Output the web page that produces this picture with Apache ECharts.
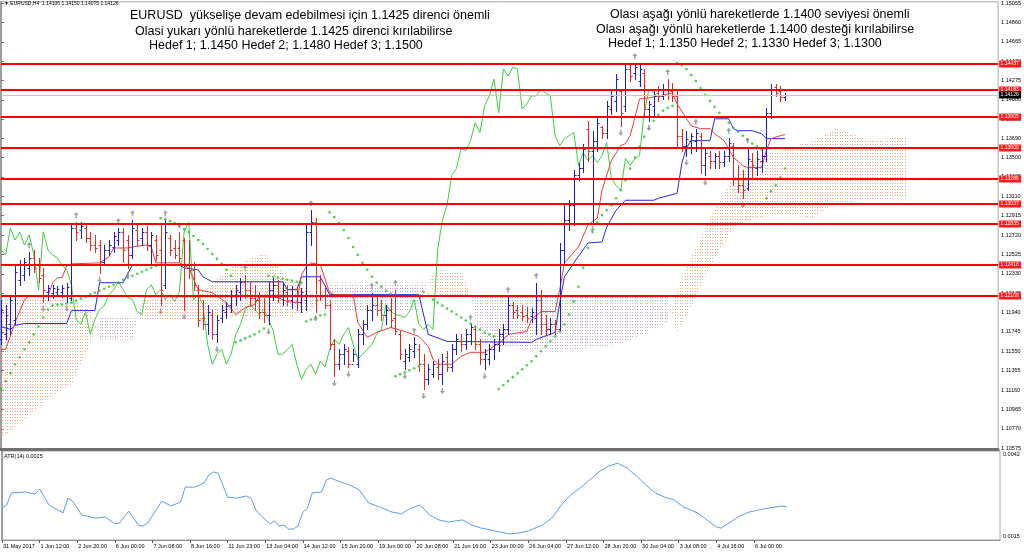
<!DOCTYPE html>
<html><head><meta charset="utf-8">
<script src="https://cdn.jsdelivr.net/npm/echarts@6/dist/echarts.min.js"></script>
<style>html,body{margin:0;padding:0;background:#fff}#c{width:1024px;height:553px}</style>
</head><body><div id="c"></div>
<script>
// ---------------- DATA ----------------
const xLabels = ['31 May 2017','1 Jun 12:00','2 Jun 20:00','6 Jun 00:00','7 Jun 08:00','8 Jun 16:00','11 Jun 23:00','13 Jun 04:00','14 Jun 12:00','15 Jun 20:00','19 Jun 00:00','20 Jun 08:00','21 Jun 16:00','23 Jun 00:00','26 Jun 04:00','27 Jun 12:00','28 Jun 20:00','30 Jun 04:00','3 Jul 08:00','4 Jul 16:00','6 Jul 00:00'];
const yTicks = [1.15055,1.14860,1.14665,1.14470,1.14275,1.14080,1.13885,1.13690,1.13500,1.13305,1.13110,1.12915,1.12720,1.12525,1.12330,1.12135,1.11940,1.11745,1.11550,1.11355,1.11160,1.10965,1.10770,1.10575];
const atrTicks = [0.0042, 0.0015];
const levels = [1.14437,1.14183,1.13905,1.13600,1.13286,1.13037,1.12835,1.12418,1.12108];
const lastPrice = 1.14126;

const opens = [1.1167,1.1172,1.1182,1.1187,1.1227,1.1232,1.1239,1.1249,1.1242,1.1232,
1.1215,1.1214,1.1215,1.1215,1.1212,1.1209,1.1279,1.1277,1.1279,1.1269,
1.1262,1.1262,1.1245,1.1257,1.1260,1.1267,1.1275,1.1267,1.1252,1.1277,
1.1269,1.1275,1.1262,1.1267,1.1257,1.1222,1.1269,1.1259,1.1259,1.1267,
1.1242,1.1237,1.1217,1.1189,1.1182,1.1192,1.1172,1.1189,1.1195,1.1202,
1.1212,1.1215,1.1225,1.1217,1.1209,1.1207,1.1195,1.1192,1.1217,1.1222,
1.1212,1.1215,1.1207,1.1212,1.1205,1.1207,1.1275,1.1285,1.1227,1.1212,
1.1202,1.1162,1.1142,1.1152,1.1155,1.1142,1.1142,1.1172,1.1182,1.1197,
1.1202,1.1197,1.1192,1.1197,1.1189,1.1172,1.1145,1.1149,1.1155,1.1157,
1.1142,1.1127,1.1132,1.1139,1.1132,1.1149,1.1139,1.1157,1.1165,1.1162,
1.1172,1.1177,1.1162,1.1147,1.1147,1.1157,1.1162,1.1172,1.1177,1.1202,
1.1197,1.1195,1.1192,1.1191,1.1189,1.1207,1.1182,1.1177,1.1182,1.1177,
1.1257,1.1287,1.1302,1.1332,1.1339,1.1379,1.1357,1.1367,1.1381,1.1375,
1.1399,1.1407,1.1417,1.1402,1.1439,1.1435,1.1427,1.1435,1.1399,1.1402,
1.1415,1.1412,1.1419,1.1417,1.1412,1.1372,1.1362,1.1367,1.1367,1.1372,
1.1342,1.1352,1.1347,1.1352,1.1345,1.1352,1.1362,1.1329,1.1322,1.1319,
1.1347,1.1339,1.1347,1.1352,1.1395,1.1421,1.1417,1.14106];
const highs = [1.1207,1.1202,1.1212,1.1242,1.1247,1.1249,1.1255,1.1257,1.1249,1.1239,
1.1222,1.1222,1.1221,1.1222,1.1224,1.1284,1.1285,1.1285,1.1283,1.1275,
1.1272,1.1267,1.1262,1.1267,1.1275,1.1279,1.1279,1.1272,1.1287,1.1282,
1.1279,1.1281,1.1275,1.1272,1.1284,1.1287,1.1272,1.1267,1.1275,1.1269,
1.1267,1.1245,1.1222,1.1207,1.1202,1.1197,1.1192,1.1202,1.1205,1.1217,
1.1222,1.1229,1.1232,1.1225,1.1222,1.1215,1.1209,1.1225,1.1229,1.1227,
1.1225,1.1222,1.1221,1.1219,1.1219,1.1282,1.1297,1.1289,1.1232,1.1222,
1.1207,1.1167,1.1157,1.1162,1.1159,1.1157,1.1177,1.1187,1.1202,1.1214,
1.1210,1.1207,1.1202,1.1209,1.1217,1.1175,1.1157,1.1162,1.1169,1.1162,
1.1152,1.1142,1.1145,1.1147,1.1152,1.1155,1.1162,1.1172,1.1172,1.1177,
1.1182,1.1179,1.1167,1.1157,1.1162,1.1167,1.1177,1.1182,1.1210,1.1205,
1.1202,1.1202,1.1200,1.1199,1.1224,1.1217,1.1192,1.1189,1.1187,1.1264,
1.1302,1.1307,1.1337,1.1344,1.1364,1.1387,1.1377,1.1390,1.1382,1.1407,
1.1417,1.1434,1.1419,1.1444,1.1444,1.1445,1.1444,1.1439,1.1407,1.1419,
1.1422,1.1424,1.1429,1.1425,1.1417,1.1379,1.1377,1.1375,1.1379,1.1375,
1.1359,1.1357,1.1355,1.1357,1.1357,1.1370,1.1365,1.1342,1.1337,1.1360,
1.1355,1.1357,1.1359,1.1400,1.1424,1.1424,1.1422,1.1415];
const lows = [1.1162,1.1167,1.1172,1.1182,1.1222,1.1227,1.1232,1.1235,1.1225,1.1205,
1.1207,1.1209,1.1211,1.1210,1.1205,1.1207,1.1267,1.1269,1.1265,1.1257,
1.1255,1.1234,1.1242,1.1252,1.1255,1.1262,1.1245,1.1239,1.1249,1.1262,
1.1262,1.1257,1.1242,1.1247,1.1202,1.1219,1.1252,1.1249,1.1245,1.1197,
1.1229,1.1217,1.1180,1.1177,1.1172,1.1167,1.1164,1.1185,1.1189,1.1195,
1.1202,1.1207,1.1209,1.1202,1.1197,1.1189,1.1185,1.1182,1.1207,1.1205,
1.1202,1.1202,1.1199,1.1197,1.1195,1.1197,1.1262,1.1195,1.1207,1.1199,
1.1157,1.1130,1.1137,1.1142,1.1139,1.1145,1.1139,1.1162,1.1177,1.1187,
1.1192,1.1187,1.1182,1.1179,1.1172,1.1147,1.1137,1.1145,1.1149,1.1135,
1.1117,1.1122,1.1129,1.1127,1.1122,1.1135,1.1135,1.1152,1.1155,1.1157,
1.1162,1.1157,1.1142,1.1137,1.1142,1.1147,1.1155,1.1162,1.1172,1.1189,
1.1189,1.1187,1.1185,1.1185,1.1172,1.1172,1.1172,1.1172,1.1172,1.1175,
1.1242,1.1277,1.1282,1.1327,1.1335,1.1347,1.1285,1.1357,1.1370,1.1370,
1.1394,1.1397,1.1382,1.1397,1.1427,1.1429,1.1422,1.1392,1.1387,1.1392,
1.1407,1.1409,1.1409,1.1407,1.1362,1.1357,1.1352,1.1355,1.1357,1.1334,
1.1332,1.1339,1.1339,1.1339,1.1341,1.1347,1.1322,1.1315,1.1309,1.1317,
1.1329,1.1332,1.1335,1.1347,1.1390,1.1412,1.1407,1.14075];
const closes = [1.1197,1.1192,1.1207,1.1235,1.1242,1.1245,1.1249,1.1239,1.1229,1.1217,
1.1219,1.1219,1.1218,1.1219,1.1220,1.1279,1.1275,1.1281,1.1269,1.1262,
1.1259,1.1245,1.1257,1.1262,1.1271,1.1275,1.1257,1.1252,1.1279,1.1267,
1.1275,1.1262,1.1272,1.1252,1.1217,1.1275,1.1257,1.1252,1.1249,1.1242,
1.1237,1.1222,1.1187,1.1182,1.1195,1.1172,1.1187,1.1197,1.1201,1.1212,
1.1217,1.1225,1.1217,1.1209,1.1207,1.1195,1.1192,1.1217,1.1222,1.1212,
1.1217,1.1207,1.1212,1.1205,1.1215,1.1275,1.1285,1.1207,1.1212,1.1202,
1.1162,1.1142,1.1152,1.1157,1.1142,1.1152,1.1172,1.1182,1.1197,1.1202,
1.1197,1.1192,1.1197,1.1187,1.1175,1.1152,1.1152,1.1157,1.1162,1.1142,
1.1127,1.1137,1.1142,1.1132,1.1145,1.1139,1.1157,1.1167,1.1162,1.1172,
1.1179,1.1162,1.1147,1.1152,1.1157,1.1162,1.1172,1.1177,1.1202,1.1195,
1.1192,1.1191,1.1189,1.1195,1.1207,1.1182,1.1177,1.1182,1.1177,1.1257,
1.1287,1.1302,1.1332,1.1339,1.1359,1.1357,1.1367,1.1385,1.1375,1.1402,
1.1412,1.1429,1.1395,1.1439,1.1432,1.1441,1.1439,1.1399,1.1404,1.1412,
1.1412,1.1419,1.1415,1.1412,1.1372,1.1362,1.1369,1.1372,1.1375,1.1342,
1.1355,1.1347,1.1352,1.1345,1.1352,1.1365,1.1329,1.1322,1.1317,1.1349,
1.1342,1.1349,1.1352,1.1395,1.1419,1.1415,1.1411,1.14126];

const sar = [1.1117,1.1125,1.1133,1.1142,1.1149,1.1157,1.1164,1.1172,1.1180,1.1189,
1.1197,1.1201,1.1202,1.1202,1.1203,1.1204,1.1206,1.1208,1.1210,1.1212,
1.1214,1.1216,1.1218,1.1220,1.1222,1.1224,1.1227,1.1229,1.1231,1.1233,
1.1235,1.1237,1.1239,1.1241,1.1289,1.1288,1.1286,1.1284,1.1281,1.1278,
1.1275,1.1271,1.1267,1.1263,1.1258,1.1253,1.1248,1.1243,1.1237,1.1231,
1.1164,1.1166,1.1168,1.1170,1.1172,1.1175,1.1178,1.1231,1.1230,1.1229,
1.1228,1.1227,1.1226,1.1225,1.1224,1.1185,1.1187,1.1189,1.1191,1.1192,
1.1295,1.1290,1.1284,1.1277,1.1269,1.1260,1.1252,1.1244,1.1237,1.1230,
1.1224,1.1220,1.1216,1.1213,1.1130,1.1132,1.1134,1.1136,1.1138,1.1140,
1.1215,1.1211,1.1207,1.1204,1.1201,1.1198,1.1195,1.1192,1.1189,1.1186,
1.1183,1.1180,1.1177,1.1174,1.1172,1.1170,1.1117,1.1121,1.1125,1.1129,
1.1133,1.1137,1.1141,1.1145,1.1150,1.1155,1.1160,1.1165,1.1170,1.1175,
1.1182,1.1192,1.1205,1.1220,1.1239,1.1259,1.1275,1.1285,1.1292,1.1297,
1.1302,1.1309,1.1317,1.1327,1.1339,1.1350,1.1361,1.1371,1.1379,1.1387,
1.1393,1.1397,1.1400,1.1402,1.1445,1.1443,1.1439,1.1433,1.1427,1.1420,
1.1413,1.1407,1.1401,1.1395,1.1390,1.1385,1.1380,1.1376,1.1372,1.1368,
1.1364,1.1361,1.1358,1.1309,1.1316,1.1322,1.1330,1.1339];

// Tenkan-sen (red) and Kijun-sen (blue): [bar, price]
const tenkan = [[0,1.1157],[1,1.1157],[3,1.1184],[5,1.1207],[6,1.1211],[10,1.1211],[11,1.1224],[12,1.1229],[13,1.1229],[14,1.1241],[15,1.1243],[21,1.1244],[23,1.1250],[24,1.1259],[27,1.1259],[28,1.1260],[31,1.1262],[32,1.1260],[33,1.1244],[38,1.1244],[40,1.1239],[42,1.1217],[45,1.1214],[48,1.1204],[50,1.1192],[52,1.1199],[54,1.1202],[55,1.1210],[59,1.1209],[61,1.1205],[63,1.1204],[64,1.1232],[65,1.1240],[66,1.1244],[68,1.1242],[70,1.1214],[71,1.1212],[75,1.1212],[76,1.1184],[78,1.1169],[80,1.1174],[83,1.1179],[86,1.1175],[89,1.1170],[91,1.1160],[92,1.1147],[93,1.1142],[96,1.1142],[98,1.1150],[100,1.1154],[103,1.1154],[105,1.1160],[107,1.1167],[108,1.1172],[112,1.1175],[113,1.1187],[115,1.1195],[118,1.1195],[119,1.1217],[120,1.1244],[123,1.1260],[125,1.1282],[127,1.1289],[128,1.1317],[130,1.1347],[132,1.1362],[133,1.1364],[134,1.1372],[135,1.1390],[136,1.1409],[138,1.1410],[143,1.1415],[144,1.1404],[146,1.1389],[147,1.1382],[149,1.1379],[151,1.1379],[152,1.1374],[154,1.1367],[156,1.1350],[158,1.1342],[159,1.1340],[162,1.1340],[163,1.1357],[164,1.1369],[166,1.1372],[167,1.1373]];
const kijun = [[0,1.1180],[2,1.1177],[3,1.1181],[5,1.1183],[14,1.1183],[15,1.1196],[20,1.1196],[21,1.1224],[26,1.1224],[28,1.1242],[38,1.1242],[39,1.1239],[42,1.1237],[43,1.1230],[45,1.1225],[60,1.1225],[61,1.1217],[63,1.1217],[64,1.1230],[68,1.1230],[70,1.1212],[89,1.1212],[91,1.1172],[95,1.1165],[113,1.1164],[114,1.1167],[118,1.1174],[119,1.1204],[120,1.1230],[122,1.1244],[125,1.1264],[128,1.1265],[129,1.1280],[131,1.1297],[133,1.1307],[139,1.1307],[140,1.1309],[144,1.1314],[145,1.1344],[146,1.1360],[147,1.1367],[151,1.1367],[152,1.1389],[155,1.1389],[156,1.1379],[157,1.1377],[160,1.1377],[162,1.1374],[163,1.1369],[167,1.1369]];

// Kumo (Senkou Span A / B), projected 26 bars ahead
const cloudBar = [0,4,10,15,19,21,28,30,42,49,56,61,66,70,89,91,93,98,100,102,118,132,142,144,147,151,156,161,166,173,178,185,190,193];
const spanA = [1.1207,1.1207,1.1207,1.1207,1.1197,1.1167,1.1167,1.1207,1.1212,1.1240,1.1254,1.1230,1.1215,1.1195,1.1195,1.1227,1.1237,1.1235,1.1215,1.1162,1.1154,1.1162,1.1184,1.1217,1.1250,1.1290,1.1330,1.1350,1.1357,1.1367,1.1380,1.1367,1.1370,1.1372];
const spanB = [1.1067,1.1082,1.1107,1.1122,1.1162,1.1189,1.1190,1.1187,1.1187,1.1189,1.1189,1.1189,1.1195,1.1224,1.1224,1.1224,1.1210,1.1210,1.1210,1.1210,1.1210,1.1210,1.1210,1.1174,1.1200,1.1240,1.1280,1.1290,1.1292,1.1290,1.1304,1.1307,1.1309,1.1309];
const chikouShift = 26;

const fractalUp = [6,16,25,28,35,38,52,66,79,84,88,100,108,114,135,142,148,155,159];
const fractalDown = [9,14,21,27,34,39,46,57,67,71,74,86,90,94,103,126,132,138,146,150,158];

// ATR(14): [bar, value]
const atr = [[0,0.00245],[1,0.00255],[2,0.00295],[5,0.00298],[7,0.00291],[8,0.00308],[10,0.00255],[13,0.00229],[14,0.00278],[15,0.00268],[17,0.00222],[20,0.00212],[22,0.00216],[24,0.00193],[25,0.00196],[27,0.00235],[29,0.00189],[30,0.00186],[31,0.00196],[34,0.00268],[36,0.00252],[38,0.00265],[39,0.00314],[41,0.00314],[43,0.00328],[44,0.00354],[45,0.00364],[46,0.0036],[48,0.00281],[50,0.00278],[52,0.00285],[53,0.00278],[54,0.00239],[55,0.00222],[57,0.00193],[58,0.00203],[59,0.00186],[60,0.00189],[61,0.00176],[62,0.00176],[63,0.00186],[64,0.00232],[65,0.00245],[66,0.00295],[68,0.00298],[69,0.00337],[70,0.00344],[72,0.00331],[74,0.00321],[76,0.00305],[78,0.00262],[81,0.00245],[83,0.00232],[85,0.00226],[87,0.00245],[89,0.00255],[91,0.00222],[93,0.00206],[95,0.00199],[98,0.00206],[100,0.00189],[102,0.00179],[104,0.00173],[106,0.00166],[108,0.0016],[110,0.00163],[112,0.0017],[115,0.00189],[117,0.00212],[119,0.00255],[121,0.00288],[123,0.00311],[125,0.00337],[127,0.00364],[129,0.00383],[131,0.00393],[133,0.00377],[135,0.00351],[137,0.00321],[139,0.00295],[141,0.00281],[143,0.00272],[145,0.00249],[148,0.00229],[150,0.00206],[152,0.00183],[153,0.00179],[155,0.00199],[157,0.00219],[159,0.00232],[161,0.00239],[163,0.00245],[166,0.00252],[167,0.00249]];

const headerText = '\u25BC EURUSD,H4  1.14106 1.14150 1.14075 1.14126';
const atrText = 'ATR(14) 0.0025';
const leftNote = ['EURUSD  yükselişe devam edebilmesi için 1.1425 direnci önemli','Olasi yukarı yönlü hareketlerde 1.1425 direnci kırılabilirse','Hedef 1; 1.1450 Hedef 2; 1.1480 Hedef 3; 1.1500'];
const rightNote = ['Olası aşağı yönlü hareketlerde 1.1400 seviyesi önemli','Olası aşağı yönlü hareketlerde 1.1400 desteği kırılabilirse','Hedef 1; 1.1350 Hedef 2; 1.1330 Hedef 3; 1.1300'];

// ---------------- STYLE ----------------
const SMALL = '"Liberation Sans", Arial, sans-serif';
const BLUE = '#1c1cd8', RED = '#e8281e';
const X_MIN = 0, X_MAX = 212.37;

function dotPattern(color){
  const c = document.createElement('canvas'); c.width = 5; c.height = 3;
  const g = c.getContext('2d'); g.fillStyle = color;
  g.fillRect(0,0,1,1); g.fillRect(2,0,1,1);
  return c;
}
const patBull = dotPattern('#f2a87c');
const patBear = dotPattern('#c6a8c6');

const chart = echarts.init(document.getElementById('c'), null, {renderer:'canvas'});

const arrowUp = 'path://M5,0 L10,5 L6.5,5 L6.5,10 L3.5,10 L3.5,5 L0,5 Z';
const arrowDown = 'path://M5,10 L10,5 L6.5,5 L6.5,0 L3.5,0 L3.5,5 L0,5 Z';

function levelRenderer(lineColor, lineWidth, boxColor){
  return function(params, api){
    const v = api.value(1);
    const p0 = api.coord([X_MIN, v]), p1 = api.coord([X_MAX, v]);
    const yr = Math.round(p0[1]);
    const y = yr + (lineWidth % 2 ? 0.5 : 0);
    return {type:'group', children:[
      {type:'line', shape:{x1:p0[0], y1:y, x2:p1[0], y2:y}, style:{stroke:lineColor, lineWidth:lineWidth}},
      {type:'rect', shape:{x:p1[0]+1, y:yr-3.5, width:22, height:7}, style:{fill:boxColor}},
      {type:'text', style:{x:p1[0]+2.5, y:yr, text:v.toFixed(5), fill:'#fff', font:'5px '+SMALL, verticalAlign:'middle', align:'left'}}
    ]};
  };
}

const option = {
  animation:false,
  backgroundColor:'#ffffff',
  grid:[
    {left:1, right:24, top:0, height:449, show:true, borderColor:'#a8a8a8', borderWidth:1},
    {left:1, right:24, top:451, height:89, show:true, borderColor:'#a8a8a8', borderWidth:1}
  ],
  xAxis:[
    {gridIndex:0, type:'value', min:X_MIN, max:X_MAX, axisLine:{show:true, onZero:false, lineStyle:{color:'#707070', width:3}}, axisTick:{show:false}, axisLabel:{show:false}, splitLine:{show:false}},
    {gridIndex:1, type:'value', min:X_MIN, max:X_MAX, axisLine:{show:true, onZero:false, lineStyle:{color:'#909090', width:1}},
      axisTick:{show:true, customValues:xLabels.map((_,k)=>k*8), length:3, lineStyle:{color:'#606060'}},
      axisLabel:{show:true, customValues:xLabels.map((_,k)=>k*8), formatter:(v)=>xLabels[Math.round(v/8)]||'', align:'left', fontSize:5.5, fontFamily:SMALL, color:'#000', margin:3, padding:[0,0,0,1]},
      splitLine:{show:false}}
  ],
  yAxis:[
    {gridIndex:0, type:'value', position:'right', min:1.10567, max:1.15067,
      axisLine:{show:true, lineStyle:{color:'#8c8c8c', width:1.5}},
      axisTick:{show:true, customValues:yTicks, length:3, lineStyle:{color:'#707070'}},
      axisLabel:{show:true, customValues:yTicks, formatter:(v)=>v.toFixed(5), fontSize:5.5, fontFamily:SMALL, color:'#000', margin:3},
      splitLine:{show:false}},
    {gridIndex:1, type:'value', position:'right', min:0.0014, max:0.00433,
      axisLine:{show:true, lineStyle:{color:'#8c8c8c', width:1.5}},
      axisTick:{show:false},
      axisLabel:{show:true, customValues:atrTicks, formatter:(v)=>v.toFixed(4), fontSize:5.5, fontFamily:SMALL, color:'#000', margin:3},
      splitLine:{show:false}}
  ],
  graphic:[
    {type:'text', x:4, y:4, style:{text:headerText, font:'5px '+SMALL, fill:'#000', verticalAlign:'middle'}},
    {type:'text', x:4, y:456, style:{text:atrText, font:'5.5px '+SMALL, fill:'#000', verticalAlign:'middle'}},
    {type:'text', x:130, y:16, style:{text:leftNote[0], font:'12.5px '+SMALL, fill:'#000', verticalAlign:'middle'}},
    {type:'text', x:135, y:31.5, style:{text:leftNote[1], font:'12.5px '+SMALL, fill:'#000', verticalAlign:'middle'}},
    {type:'text', x:149, y:46, style:{text:leftNote[2], font:'12.5px '+SMALL, fill:'#000', verticalAlign:'middle'}},
    {type:'text', x:610, y:15, style:{text:rightNote[0], font:'12.5px '+SMALL, fill:'#000', verticalAlign:'middle'}},
    {type:'text', x:596, y:29.5, style:{text:rightNote[1], font:'12.5px '+SMALL, fill:'#000', verticalAlign:'middle'}},
    {type:'text', x:608, y:44, style:{text:rightNote[2], font:'12.5px '+SMALL, fill:'#000', verticalAlign:'middle'}}
  ],
  series:[
    { // Kumo
      type:'custom', xAxisIndex:0, yAxisIndex:0, z:1, silent:true,
      data: cloudBar.map((t,k)=>[t, spanA[k], spanB[k]]),
      encode:{x:0, y:[1,2]},
      renderItem(params, api){
        const k = params.dataIndex;
        if(k===0) return null;
        const a0 = api.coord([cloudBar[k-1], spanA[k-1]]), a1 = api.coord([cloudBar[k], spanA[k]]);
        const b0 = api.coord([cloudBar[k-1], spanB[k-1]]), b1 = api.coord([cloudBar[k], spanB[k]]);
        const bull = (spanA[k-1]+spanA[k]) >= (spanB[k-1]+spanB[k]);
        return {type:'polygon', shape:{points:[a0,a1,b1,b0]}, style:{fill:{image: bull?patBull:patBear, repeat:'repeat'}, stroke:null}};
      }
    },
    { // Chikou
      type:'line', xAxisIndex:0, yAxisIndex:0, z:2, symbol:'none', clip:true,
      data: closes.map((c,i)=>[i-chikouShift, c]),
      lineStyle:{color:'#3ccf3c', width:1}
    },
    { // Kijun
      type:'line', xAxisIndex:0, yAxisIndex:0, z:3, symbol:'none', data:kijun,
      lineStyle:{color:'#2a2ad0', width:1}
    },
    { // Tenkan
      type:'line', xAxisIndex:0, yAxisIndex:0, z:3, symbol:'none', data:tenkan,
      lineStyle:{color:'#ec3a3a', width:1}
    },
    { // OHLC bars
      type:'custom', xAxisIndex:0, yAxisIndex:0, z:4,
      data: opens.map((o,i)=>[i,o,highs[i],lows[i],closes[i]]),
      encode:{x:0, y:[2,3]},
      renderItem(params, api){
        const i=api.value(0), o=api.value(1), h=api.value(2), l=api.value(3), c=api.value(4);
        const ph=api.coord([i,h]), pl=api.coord([i,l]), po=api.coord([i,o]), pc=api.coord([i,c]);
        const x=Math.round(ph[0])+0.5;
        const st={stroke: c>=o?BLUE:RED, lineWidth:1};
        const yo=Math.round(po[1])+0.5, yc=Math.round(pc[1])+0.5;
        return {type:'group', children:[
          {type:'line', shape:{x1:x,y1:Math.round(ph[1]),x2:x,y2:Math.round(pl[1])+1}, style:st},
          {type:'line', shape:{x1:x-2,y1:yo,x2:x,y2:yo}, style:st},
          {type:'line', shape:{x1:x,y1:yc,x2:x+2,y2:yc}, style:st}
        ]};
      }
    },
    { // Parabolic SAR
      type:'scatter', xAxisIndex:0, yAxisIndex:0, z:5, symbol:'circle', symbolSize:2.6,
      data: sar.map((v,i)=>[i,v]), itemStyle:{color:'#22c322'}
    },
    { // fractals up
      type:'scatter', xAxisIndex:0, yAxisIndex:0, z:6, symbol:arrowUp, symbolSize:[5,6], symbolOffset:[0,-7],
      data: fractalUp.map(i=>[i, highs[i]]), itemStyle:{color:'#8a8a8a'}
    },
    { // fractals down
      type:'scatter', xAxisIndex:0, yAxisIndex:0, z:6, symbol:arrowDown, symbolSize:[5,6], symbolOffset:[0,7],
      data: fractalDown.map(i=>[i, lows[i]]), itemStyle:{color:'#8a8a8a'}
    },
    { // horizontal levels
      type:'custom', xAxisIndex:0, yAxisIndex:0, z:7, silent:true, clip:false,
      data: levels.map(v=>[0, v]), encode:{x:0, y:1},
      renderItem: levelRenderer('#ff0000', 2, '#ff1a1a')
    },
    { // last price line
      type:'custom', xAxisIndex:0, yAxisIndex:0, z:8, silent:true, clip:false,
      data:[[0, lastPrice]], encode:{x:0, y:1},
      renderItem: levelRenderer('#c8c8c8', 1, '#000000')
    },
    { // ATR
      type:'line', xAxisIndex:1, yAxisIndex:1, symbol:'none', data:atr,
      lineStyle:{color:'#5b9fe3', width:1}
    }
  ]
};
chart.setOption(option);
</script>
</body></html>
